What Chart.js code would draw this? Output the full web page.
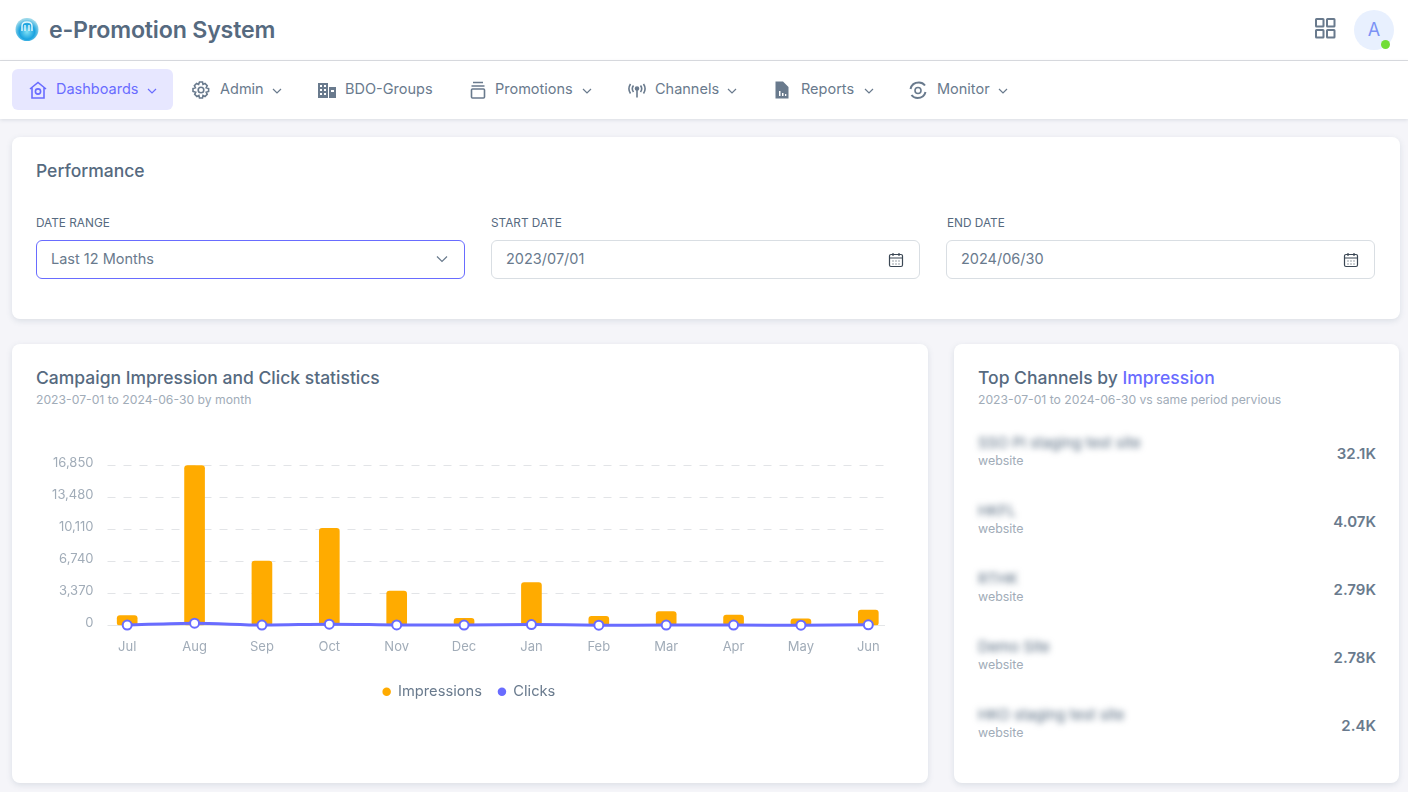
<!DOCTYPE html>
<html>
<head>
<meta charset="utf-8">
<title>e-Promotion System</title>
<script src="https://cdn.jsdelivr.net/npm/chart.js@4"></script>
<style>
* { box-sizing: border-box; }
html, body { margin: 0; height: 792px; overflow: hidden; }
body { background: #f5f5f9; font-family: Inter, "Noto Sans", sans-serif; color: #697a8d; position: relative; }
.abs { position: absolute; white-space: nowrap; }
.top { position: absolute; left: 0; top: 0; width: 1408px; height: 61px; background: #fff; border-bottom: 1px solid #dcdde1; }
.nav { position: absolute; left: 0; top: 61px; width: 1408px; height: 58px; background: #fff; box-shadow: 0 1px 4px rgba(67,89,113,.16); }
.brand { left: 49px; top: 15px; font-size: 23.2px; line-height: 30px; font-weight: 600; color: #566a7f; letter-spacing: -0.2px; }
.pill { position: absolute; left: 12px; top: 8px; width: 161px; height: 41px; border-radius: 6px; background: #e7e7ff; }
.item { position: absolute; top: 18px; font-size: 14.5px; line-height: 20px; color: #697a8d; }
.item.on { color: #696cff; }
.ico { position: absolute; top: 19px; width: 20px; height: 20px; fill: none; stroke: #697a8d; stroke-width: 1.6; }
.chev { position: absolute; top: 27px; width: 10px; height: 6px; fill: none; stroke: #697a8d; stroke-width: 1.2; }
.card { position: absolute; background: #fff; border-radius: 8px; box-shadow: 0 2px 6px rgba(67,89,113,.14); }
.h5 { font-size: 17.5px; line-height: 22px; color: #566a7f; font-weight: 500; }
.sub { font-size: 12.2px; line-height: 16px; color: #a1acb8; }
.lab { font-size: 11.8px; line-height: 14px; color: #566a7f; top: 216px; }
.inp { position: absolute; top: 240px; width: 429px; height: 39px; border: 1px solid #d9dee3; border-radius: 6px; background: #fff; font-size: 14.5px; line-height: 35px; padding-left: 14px; color: #697a8d; }
.inp.sel { border-color: #696cff; }
.inp svg { position: absolute; right: 15px; top: 11px; width: 16px; height: 16px; fill: none; stroke: #3b4754; stroke-width: 1.2; }
.inp.sel svg { right: 16px; top: 14px; width: 12px; height: 8px; stroke: #697a8d; }
.blur { filter: blur(3px); font-size: 14.8px; color: #566a7f; left: 978px; line-height: 18px; }
.kind { font-size: 12.4px; color: #a1acb8; left: 978px; line-height: 16px; }
.val { font-size: 15px; font-weight: 600; color: #697a8d; right: 32px; line-height: 20px; }
canvas { position: absolute; left: 12px; top: 344px; }
</style>
</head>
<body>

<div class="top">
  <svg class="abs" style="left:15px;top:17px" width="24" height="25" viewBox="0 0 24 25">
    <defs><radialGradient id="gl" cx="50%" cy="60%" r="55%"><stop offset="0" stop-color="#7fe0f5"/><stop offset=".6" stop-color="#1aa3e0"/><stop offset="1" stop-color="#9ad8ea"/></radialGradient></defs>
    <circle cx="12" cy="12.5" r="11.5" fill="url(#gl)"/>
    <path d="M7 14V9c0-3 2-4 5-4s5 1 5 4v5M10 14V8M14 14V8" fill="none" stroke="#e4f7fc" stroke-width="1.4"/>
  </svg>
  <div class="abs brand">e-Promotion System</div>
  <svg class="abs" style="left:1315px;top:18px" width="21" height="21" viewBox="0 0 21 21" fill="none" stroke="#697a8d" stroke-width="2">
    <rect x="1" y="1" width="7.5" height="7.5" rx=".5"/><rect x="12" y="1" width="7.5" height="7.5" rx=".5"/><rect x="1" y="12" width="7.5" height="7.5" rx=".5"/><rect x="12" y="12" width="7.5" height="7.5" rx=".5"/>
  </svg>
  <div class="abs" style="left:1354px;top:10px;width:40px;height:40px;border-radius:50%;background:#e8f0fe;color:#7c93f5;font-size:18px;line-height:40px;text-align:center">A</div>
  <div class="abs" style="left:1381px;top:40px;width:9px;height:9px;border-radius:50%;background:#71dd37"></div>
</div>

<div class="nav">
  <div class="pill"></div>
  <svg class="ico" style="left:28px;stroke:#696cff" viewBox="0 0 20 20"><path d="M2 9l8-6.5L18 9M4 7.5V18h12V7.5"/><circle cx="10" cy="11.5" r="2.6"/></svg>
  <div class="item on" style="left:56px">Dashboards</div>
  <svg class="chev" style="left:147px;stroke:#696cff" viewBox="0 0 10 6"><path d="M1 1l4 4 4-4"/></svg>

  <svg class="ico" style="left:191px" viewBox="0 0 20 20"><circle cx="10" cy="10" r="2.8"/><path d="M8.5 2h3l.5 2.4 2-.9 2.2 2.2-1 2 2.4.8v3l-2.4.7 1 2.1-2.2 2.2-2-1-.5 2.5h-3l-.6-2.5-2 1-2.2-2.2 1-2.1L2 11.500v-3l2.400-.8-1-2 2.200-2.200 2 .900z"/></svg>
  <div class="item" style="left:220px">Admin</div>
  <svg class="chev" style="left:272px" viewBox="0 0 10 6"><path d="M1 1l4 4 4-4"/></svg>

  <svg class="ico" style="left:317px;stroke:none;fill:#697a8d" viewBox="0 0 20 20"><path d="M1 3h10v15H1zM12 7h7v11h-7z"/><path fill="#fff" d="M3 5h2v2H3zM7 5h2v2H7zM3 9h2v2H3zM7 9h2v2H7zM3 13h2v2H3zM7 13h2v2H7zM14 10h3v2h-3z"/></svg>
  <div class="item" style="left:345px">BDO-Groups</div>

  <svg class="ico" style="left:468px" viewBox="0 0 20 20"><path d="M5 2.500h10M3.500 6h13"/><rect x="3.500" y="9" width="13" height="9" rx="1"/></svg>
  <div class="item" style="left:495px">Promotions</div>
  <svg class="chev" style="left:582px" viewBox="0 0 10 6"><path d="M1 1l4 4 4-4"/></svg>

  <svg class="ico" style="left:627px" viewBox="0 0 20 20"><circle cx="10" cy="8.500" r="1.500" fill="#697a8d"/><path d="M10 10v7.500M6.500 5.500c-1.500 2-1.500 4.500 0 6.500M13.500 5.500c1.500 2 1.500 4.500 0 6.500M3.500 4c-2 3-2 6.500 0 9.500M16.500 4c2 3 2 6.500 0 9.500"/></svg>
  <div class="item" style="left:655px">Channels</div>
  <svg class="chev" style="left:727px" viewBox="0 0 10 6"><path d="M1 1l4 4 4-4"/></svg>

  <svg class="ico" style="left:772px;stroke:none;fill:#697a8d" viewBox="0 0 20 20"><path fill-rule="evenodd" d="M3.500 1.500h7.500l5.500 5.500v11.500h-13zM7 11v5h1.500v-5zM10 13v3h1.500v-3zM13 14v2h1.300v-2z"/></svg>
  <div class="item" style="left:801px">Reports</div>
  <svg class="chev" style="left:864px" viewBox="0 0 10 6"><path d="M1 1l4 4 4-4"/></svg>

  <svg class="ico" style="left:908px" viewBox="0 0 20 20"><circle cx="10" cy="10.500" r="3"/><path d="M2.500 9C3.500 4.500 7 2.500 11 2.500c2.500 0 4.500 1 6 3M17.500 12c-1 4-4.500 6-8 6-2.500 0-4.500-1-6-3" stroke-width="2"/></svg>
  <div class="item" style="left:937px">Monitor</div>
  <svg class="chev" style="left:998px" viewBox="0 0 10 6"><path d="M1 1l4 4 4-4"/></svg>
</div>

<div class="card" style="left:12px;top:137px;width:1388px;height:182px"></div>
<div class="abs h5" style="left:36px;top:160px">Performance</div>
<div class="abs lab" style="left:36px">DATE RANGE</div>
<div class="abs lab" style="left:491px">START DATE</div>
<div class="abs lab" style="left:947px">END DATE</div>
<div class="inp sel" style="left:36px">Last 12 Months<svg viewBox="0 0 12 8"><path d="M1 1.500l5 5 5-5"/></svg></div>
<div class="inp" style="left:491px">2023/07/01<svg viewBox="0 0 16 16"><rect x="1.500" y="2.500" width="13" height="12" rx="1.500"/><path d="M1.500 6h13M5 1v3M11 1v3M4.500 9h1M7.500 9h1M10.500 9h1M4.500 12h1M7.500 12h1M10.500 12h1"/></svg></div>
<div class="inp" style="left:946px">2024/06/30<svg viewBox="0 0 16 16"><rect x="1.500" y="2.500" width="13" height="12" rx="1.500"/><path d="M1.500 6h13M5 1v3M11 1v3M4.500 9h1M7.500 9h1M10.500 9h1M4.500 12h1M7.500 12h1M10.500 12h1"/></svg></div>

<div class="card" style="left:12px;top:344px;width:916px;height:439px"></div>
<div class="abs h5" style="left:36px;top:367px">Campaign Impression and Click statistics</div>
<div class="abs sub" style="left:36px;top:392px">2023-07-01 to 2024-06-30 by month</div>
<canvas id="chartCampaign" width="916" height="439" style="width:916px;height:439px"></canvas>

<div class="card" style="left:954px;top:344px;width:445px;height:439px"></div>
<div class="abs h5" style="left:978px;top:367px">Top Channels by <span style="color:#696cff">Impression</span></div>
<div class="abs sub" style="left:978px;top:392px">2023-07-01 to 2024-06-30 vs same period pervious</div>
<div id="channelList"></div>

<script>
const months = ['Jul', 'Aug', 'Sep', 'Oct', 'Nov', 'Dec', 'Jan', 'Feb', 'Mar', 'Apr', 'May', 'Jun'];
const impressions = [1030, 16800, 6750, 10200, 3600, 720, 4500, 950, 1430, 1080, 670, 1600];
const clicks = [30, 220, 25, 120, 40, 20, 80, 15, 20, 20, 10, 50];
const yTicks = [0, 3370, 6740, 10110, 13480, 16850];

const channelNames = ['SSO PI staging test site', 'HKFL', 'RTHK', 'Demo Site', 'HKO staging test site'];
const channelKinds = ['website', 'website', 'website', 'website', 'website'];
const channelValues = ['32.1K', '4.07K', '2.79K', '2.78K', '2.4K'];

// Right-hand list
let listHtml = '';
channelNames.forEach(function (name, i) {
  const top = 434 + i * 68;
  listHtml += '<div class="abs blur" style="top:' + top + 'px">' + name + '</div>';
  listHtml += '<div class="abs kind" style="top:' + (top + 19) + 'px">' + channelKinds[i] + '</div>';
  listHtml += '<div class="abs val" style="top:' + (top + 10) + 'px">' + channelValues[i] + '</div>';
});
document.getElementById('channelList').innerHTML = listHtml;

// Dashed lines stop short of the category band, so they are drawn here
const shortGrid = {
  id: 'shortGrid',
  beforeDatasetsDraw(chart) {
    const ctx = chart.ctx;
    const x = chart.scales.x;
    const y = chart.scales.y;
    ctx.save();
    ctx.lineWidth = 1;
    yTicks.forEach(function (v) {
      const py = Math.round(y.getPixelForValue(v)) + 0.5;
      ctx.strokeStyle = v === 0 ? '#e4e6e8' : '#e2e4e7';
      ctx.setLineDash(v === 0 ? [] : [8, 8]);
      ctx.beginPath();
      ctx.moveTo(x.left + 14, py);
      ctx.lineTo(x.right - 17, py);
      ctx.stroke();
    });
    ctx.restore();
  }
};

new Chart(document.getElementById('chartCampaign').getContext('2d'), {
  type: 'bar',
  data: {
    labels: months,
    datasets: [{
      type: 'bar',
      label: 'Impressions',
      data: impressions,
      backgroundColor: '#ffab00',
      borderRadius: 3,
      borderSkipped: false,
      barThickness: 20,
      order: 2
    }, {
      type: 'line',
      label: 'Clicks',
      data: clicks,
      borderColor: '#696cff',
      backgroundColor: '#696cff',
      borderWidth: 3,
      tension: 0.3,
      clip: false,
      pointRadius: 4.5,
      pointBorderWidth: 2,
      pointBackgroundColor: '#fff',
      pointBorderColor: '#696cff',
      order: 1
    }]
  },
  plugins: [shortGrid],
  options: {
    responsive: false,
    animation: false,
    layout: { padding: { left: 24, right: 26, top: 121, bottom: 74 } },
    plugins: {
      tooltip: { enabled: false },
      legend: {
        position: 'bottom',
        labels: {
          usePointStyle: true,
          pointStyle: 'circle',
          boxWidth: 8,
          boxHeight: 6,
          padding: 16,
          color: '#697a8d',
          font: { family: 'Inter', size: 14.7 },
          sort: function (a, b) { return a.datasetIndex - b.datasetIndex; },
          // solid dots in the legend even though the line's points are white
          generateLabels: function (chart) {
            return Chart.defaults.plugins.legend.labels.generateLabels(chart).map(function (item) {
              item.fillStyle = chart.data.datasets[item.datasetIndex].backgroundColor;
              item.strokeStyle = item.fillStyle;
              item.lineWidth = 0;
              return item;
            });
          }
        }
      }
    },
    scales: {
      x: {
        grid: { display: false, drawTicks: false },
        border: { display: false },
        ticks: { color: '#a1acb8', padding: 14, maxRotation: 0, font: { family: 'Inter', size: 13 } },
        afterFit(scale) { scale.height = 43; }
      },
      y: {
        min: 0,
        max: 16850,
        afterBuildTicks(scale) { scale.ticks = yTicks.map(function (v) { return { value: v }; }); },
        grid: { display: false, drawTicks: false },
        border: { display: false },
        ticks: {
          color: '#a1acb8',
          padding: 0,
          labelOffset: -2,
          font: { family: 'Inter', size: 13 },
          callback: function (v) { return v.toLocaleString('en-US'); }
        },
        afterFit(scale) { scale.width = 57.5; }
      }
    }
  }
});
</script>
</body>
</html>
